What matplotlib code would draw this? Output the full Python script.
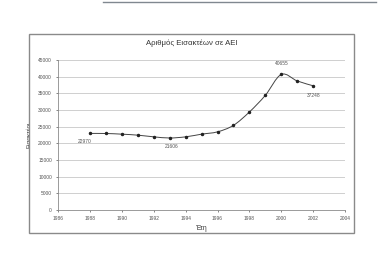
import numpy as np
import matplotlib
matplotlib.use('Agg')
import matplotlib.pyplot as plt
from matplotlib.path import Path
from matplotlib.patches import PathPatch, Rectangle
from matplotlib.lines import Line2D

# data
years = [1988, 1989, 1990, 1991, 1992, 1993, 1994, 1995,
         1996, 1997, 1998, 1999, 2000, 2001, 2002]
students = [22970, 22950, 22750, 22450, 21950, 21606, 21950, 22750,
            23450, 25400, 29400, 34400, 40655, 38700, 37248]
labelled = {1988: (-5, -8), 1993: (2, -9), 2000: (1, 11), 2002: (1, -10)}
xticks = list(range(1986, 2005, 2))
yticks = list(range(0, 45001, 5000))

plt.rcParams['font.family'] = ['Liberation Sans', 'DejaVu Sans']

dpi = 100
fig = plt.figure(figsize=(380 / dpi, 270 / dpi), dpi=dpi)
fig.patch.set_facecolor('white')

# chart area border and scan edge
fig.patches.append(Rectangle((0.076, 0.137), 0.856, 0.737, transform=fig.transFigure,
                             fill=False, edgecolor='#8a8a8a', linewidth=1.0))
fig.lines.append(Line2D([0.27, 0.99], [0.993, 0.993], transform=fig.transFigure,
                        color='#808890', linewidth=1.0))

ax = fig.add_axes([0.153, 0.222, 0.755, 0.556])
ax.set_xlim(1986, 2004)
ax.set_ylim(0, 45000)
ax.set_xticks(xticks)
ax.set_yticks(yticks)
ax.tick_params(labelsize=3.5, colors='#555555', length=1.5, width=0.5, pad=3)
ax.yaxis.grid(True, color='#c8c8c8', linewidth=0.6)
ax.set_axisbelow(True)
for s in ['top', 'right']:
    ax.spines[s].set_visible(False)
for s in ['left', 'bottom']:
    ax.spines[s].set_color('#8a8a8a')
    ax.spines[s].set_linewidth(0.6)

# smoothed line (Catmull-Rom as cubic Bezier segments)
x = np.array(years, dtype=float)
y = np.array(students, dtype=float)
verts = [(x[0], y[0])]
codes = [Path.MOVETO]
n = len(x)
for i in range(n - 1):
    p0 = (x[max(i - 1, 0)], y[max(i - 1, 0)])
    p1 = (x[i], y[i])
    p2 = (x[i + 1], y[i + 1])
    p3 = (x[min(i + 2, n - 1)], y[min(i + 2, n - 1)])
    c1 = (p1[0] + (p2[0] - p0[0]) / 6, p1[1] + (p2[1] - p0[1]) / 6)
    c2 = (p2[0] - (p3[0] - p1[0]) / 6, p2[1] - (p3[1] - p1[1]) / 6)
    verts += [c1, c2, p2]
    codes += [Path.CURVE4] * 3
ax.add_patch(PathPatch(Path(verts, codes), fill=False, edgecolor='#444444', linewidth=0.7))
ax.plot(years, students, linestyle='none', marker='o', markersize=1.5, color='#222222')

for yr, off in labelled.items():
    v = students[years.index(yr)]
    ax.annotate(str(v), (yr, v), xytext=off, textcoords='offset pixels',
                ha='center', va='center', fontsize=3.5, color='#555555')

fig.text(0.505, 0.84, 'Αριθμός Εισακτέων σε ΑΕΙ', ha='center', va='center',
         fontsize=5.6, color='#333333')
ax.set_xlabel('Έτη', fontsize=4.8, color='#333333', labelpad=3)
ax.set_ylabel('Εισακτέοι', fontsize=4.5, color='#333333', labelpad=5)

fig.savefig('out.png', dpi=dpi)
